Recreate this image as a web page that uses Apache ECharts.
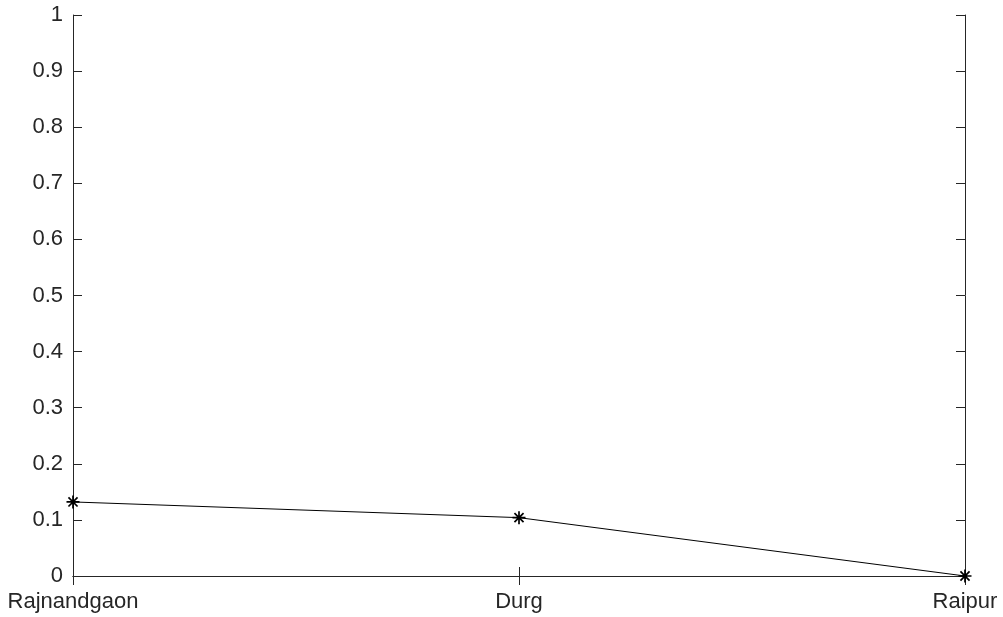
<!DOCTYPE html>
<html><head><meta charset="utf-8">
<script src="https://cdn.jsdelivr.net/npm/echarts@6/dist/echarts.min.js"></script>
<style>html,body{margin:0;padding:0;background:#fff}#c{width:1003px;height:617px}</style>
</head><body><div id="c"></div>
<script>
const categories = ['Rajnandgaon', 'Durg', 'Raipur'];
const values = [0.132, 0.104, 0];
const yTicks = [0, 0.1, 0.2, 0.3, 0.4, 0.5, 0.6, 0.7, 0.8, 0.9, 1];

const chart = echarts.init(document.getElementById('c'));
const font = 'Liberation Sans, Arial, Helvetica, sans-serif';
const axCol = '#262626';
const star = 'path://M0 5 L10 5 M5 0 L5 10 M1.5 1.5 L8.5 8.5 M8.5 1.5 L1.5 8.5';
chart.setOption({
  animation: false,
  backgroundColor: '#fff',
  grid: {left: 73, right: 38, top: 15, bottom: 41, containLabel: false},
  xAxis: [{
    type: 'category', data: categories, boundaryGap: false, position: 'bottom',
    axisLine: {lineStyle: {color: axCol, width: 1}},
    axisTick: {inside: true, length: 9, lineStyle: {color: axCol}},
    axisLabel: {color: axCol, fontFamily: font, fontSize: 22, margin: 15, interval: 0},
    splitLine: {show: false}
  }, {
    type: 'category', data: categories, boundaryGap: false, position: 'top',
    axisLine: {lineStyle: {color: axCol, width: 1}},
    axisTick: {inside: true, length: 9, lineStyle: {color: axCol}},
    axisLabel: {show: false}, splitLine: {show: false}
  }],
  yAxis: [{
    type: 'value', min: 0, max: 1, interval: 0.1, position: 'left',
    axisLine: {show: true, lineStyle: {color: axCol, width: 1}},
    axisTick: {show: true, inside: true, length: 9, lineStyle: {color: axCol}},
    axisLabel: {color: axCol, fontFamily: font, fontSize: 22, margin: 10,
      formatter: v => String(Math.round(v * 10) / 10)},
    splitLine: {show: false}
  }, {
    type: 'value', min: 0, max: 1, interval: 0.1, position: 'right',
    axisLine: {show: true, lineStyle: {color: axCol, width: 1}},
    axisTick: {show: true, inside: true, length: 9, lineStyle: {color: axCol}},
    axisLabel: {show: false}, splitLine: {show: false}
  }],
  series: [{
    type: 'line', data: values, xAxisIndex: 0, yAxisIndex: 0,
    lineStyle: {color: '#000', width: 1},
    symbol: star, symbolSize: 13, showAllSymbol: true,
    itemStyle: {color: 'rgba(0,0,0,0)', borderColor: '#000', borderWidth: 1.7},
    clip: false
  }]
});
</script></body></html>
